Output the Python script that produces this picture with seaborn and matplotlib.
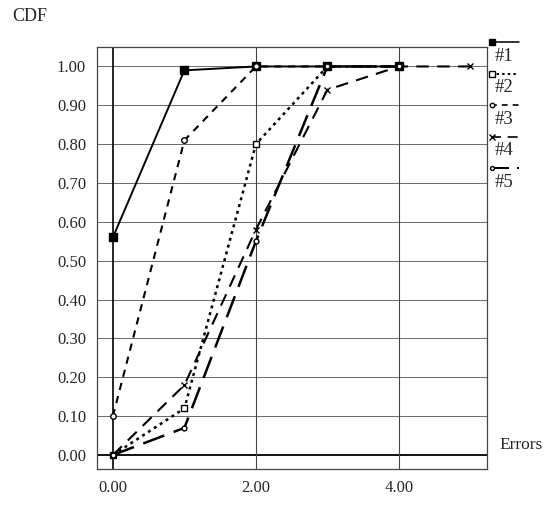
import pandas as pd
import matplotlib
matplotlib.use("Agg")
import matplotlib.pyplot as plt
import seaborn as sns
from matplotlib.lines import Line2D

# ------------------------------
# Data
# ------------------------------
errors = [0, 1, 2, 3, 4, 5]
series_names = ["#1", "#2", "#3", "#4", "#5"]
cdf_1 = [0.56, 0.99, 1.00, 1.00, 1.00]
cdf_2 = [0.00, 0.12, 0.80, 1.00, 1.00]
cdf_3 = [0.10, 0.81, 1.00, 1.00, 1.00]
cdf_4 = [0.00, 0.18, 0.58, 0.94, 1.00, 1.00]
cdf_5 = [0.00, 0.07, 0.55, 1.00, 1.00]
y_ticks = [0.0, 0.1, 0.2, 0.3, 0.4, 0.5, 0.6, 0.7, 0.8, 0.9, 1.0]
x_ticks = [0, 2, 4]

rows = []
for name, vals in zip(series_names, [cdf_1, cdf_2, cdf_3, cdf_4, cdf_5]):
    for e, v in zip(errors, vals):
        rows.append({"series": name, "errors": e, "cdf": v})
df = pd.DataFrame(rows)

# ------------------------------
# Styles
# ------------------------------
styles = {
    "#1": dict(ls="-", dashes=None, marker="s", mfc="black", ms=5.5, lw=1.4),
    "#2": dict(ls=":", dashes=(1.2, 1.6), marker="s", mfc="white", ms=5, lw=1.8),
    "#3": dict(ls="--", dashes=(3.5, 3.0), marker="o", mfc="white", ms=4, lw=1.5),
    "#4": dict(ls="--", dashes=(6, 4), marker="x", mfc="black", ms=5, lw=1.5),
    "#5": dict(ls="--", dashes=(9, 4), marker="o", mfc="white", ms=3.5, lw=1.8),
}

sns.set_style("white")
plt.rcParams["font.family"] = ["Liberation Serif", "DejaVu Serif"]

fig = plt.figure(figsize=(5.52, 5.14), dpi=100)
ax = fig.add_axes([0.176, 0.0875, 0.706, 0.821])

# gridlines
for y in y_ticks:
    ax.axhline(y, color="#6a6a6a" if y > 0 else "black", lw=0.7 if y > 0 else 1.3, zorder=0)
for x in x_ticks:
    ax.axvline(x, color="#444444" if x > 0 else "black", lw=0.8 if x > 0 else 1.2, zorder=0)

for name in series_names:
    st = styles[name]
    sub = df[df["series"] == name]
    sns.lineplot(data=sub, x="errors", y="cdf", ax=ax, color="black",
                 linewidth=st["lw"], marker=st["marker"], markersize=st["ms"],
                 markerfacecolor=st["mfc"], markeredgecolor="black",
                 markeredgewidth=1.0, legend=False)
    line = ax.get_lines()[-1]
    if st["dashes"] is not None:
        line.set_dashes(st["dashes"])

ax.set_xlim(-0.22, 5.23)
ax.set_ylim(-0.036, 1.05)
ax.set_xticks(x_ticks)
ax.set_xticklabels([f"{t:.2f}" for t in x_ticks], fontsize=12)
ax.set_yticks(y_ticks)
ax.set_yticklabels([f"{t:.2f}" for t in y_ticks], fontsize=12)
ax.tick_params(length=0, pad=8)
ax.set_xlabel("")
ax.set_ylabel("")
for sp in ax.spines.values():
    sp.set_color("#444444")
    sp.set_linewidth(0.9)

fig.text(0.022, 0.968, "CDF", fontsize=13, ha="left", va="center")
fig.text(0.905, 0.135, "Errors", fontsize=12.5, ha="left", va="center")

# ------------------------------
# Legend: handle above each label, outside right
# ------------------------------
for i, name in enumerate(series_names):
    st = styles[name]
    y_lab = 1 - (56 + i * 31.5) / 514
    y_h = y_lab + 14 / 514
    ln = Line2D([0.890, 0.940], [y_h, y_h], transform=fig.transFigure, color="black",
                lw=st["lw"] * 0.8, ls=st["ls"])
    if st["dashes"] is not None:
        ln.set_dashes(st["dashes"])
    fig.add_artist(ln)
    mk = Line2D([0.892], [y_h], transform=fig.transFigure, color="black", marker=st["marker"],
                ms=st["ms"] * 0.8, mfc=st["mfc"], mec="black", ls="none")
    fig.add_artist(mk)
    fig.text(0.897, y_lab, name, fontsize=13.5, ha="left", va="center")

fig.savefig("out.png", dpi=100)
